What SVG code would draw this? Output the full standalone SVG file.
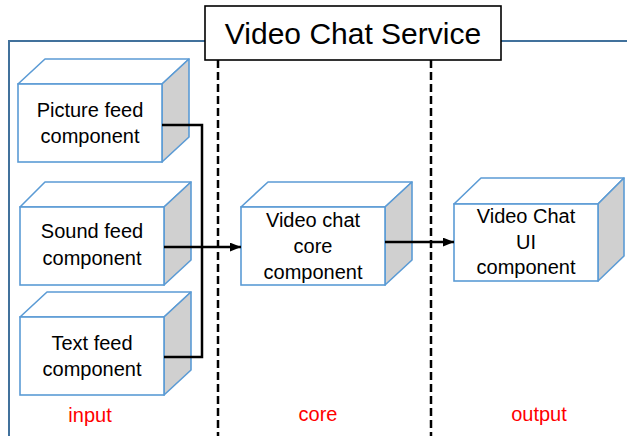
<svg xmlns="http://www.w3.org/2000/svg" width="627" height="436" viewBox="0 0 627 436">
<defs>
<style>
.front{fill:#fff;stroke:#5B9BD5;stroke-width:1.6}
.top{fill:#fff;stroke:#5B9BD5;stroke-width:1.6;stroke-linejoin:round}
.side{fill:#D0D0D0;stroke:#5B9BD5;stroke-width:1.6;stroke-linejoin:round}
.t{font-family:"Liberation Sans",Arial,sans-serif;font-size:20px;fill:#000;text-anchor:middle}
.lbl{font-family:"Liberation Sans",Arial,sans-serif;font-size:20px;fill:#FF0000;text-anchor:middle}
.conn{fill:none;stroke:#000;stroke-width:2.5}
.dash{fill:none;stroke:#000;stroke-width:2.5;stroke-dasharray:8,4}
</style>
<marker id="arr" viewBox="0 0 10 8" refX="10" refY="4" markerWidth="11" markerHeight="9" markerUnits="userSpaceOnUse" orient="auto">
<path d="M0,0 L10,4 L0,8 z" fill="#000"/>
</marker>
</defs>
<rect width="627" height="436" fill="#fff"/>
<g id="frame">
<path d="M9,436 L9,41 L627,41" fill="none" stroke="#41719C" stroke-width="2"/>
</g>
<g id="dividers">
<line class="dash" x1="218" y1="60" x2="218" y2="436"/>
<line class="dash" x1="431" y1="60" x2="431" y2="436"/>
</g>
<g id="title">
<rect x="205" y="6" width="296" height="54" fill="#fff" stroke="#000" stroke-width="1.6"/>
<text x="353" y="44" font-family="'Liberation Sans',Arial,sans-serif" font-size="30" text-anchor="middle" fill="#000">Video Chat Service</text>
</g>
<g id="picture">
<path class="top" d="M18,84 L45,59 L189,59 L162,84 Z"/>
<path class="side" d="M162,84 L189,59 L189,137 L162,162 Z"/>
<rect class="front" x="18" y="84" width="144" height="78"/>
<text class="t" x="90" y="117">Picture feed</text>
<text class="t" x="90" y="143">component</text>
</g>
<g id="sound">
<path class="top" d="M20,207 L45,182 L191,182 L164,207 Z"/>
<path class="side" d="M164,207 L191,182 L191,260 L164,285 Z"/>
<rect class="front" x="20" y="207" width="144" height="78"/>
<text class="t" x="92" y="238">Sound feed</text>
<text class="t" x="92" y="265">component</text>
</g>
<g id="textfeed">
<path class="top" d="M20,317 L47,292 L191,292 L164,317 Z"/>
<path class="side" d="M164,317 L191,292 L191,370 L164,395 Z"/>
<rect class="front" x="20" y="317" width="144" height="78"/>
<text class="t" x="92" y="350">Text feed</text>
<text class="t" x="92" y="376">component</text>
</g>
<g id="core">
<path class="top" d="M241,207 L268,182 L412,182 L385,207 Z"/>
<path class="side" d="M385,207 L412,182 L412,260 L385,285 Z"/>
<rect class="front" x="241" y="207" width="144" height="78"/>
<text class="t" x="313" y="227">Video chat</text>
<text class="t" x="313" y="253">core</text>
<text class="t" x="313" y="279">component</text>
</g>
<g id="ui">
<path class="top" d="M454,204 L481,178 L624,178 L598,204 Z"/>
<path class="side" d="M598,204 L624,178 L624,256 L598,281 Z"/>
<rect class="front" x="454" y="204" width="144" height="77"/>
<text class="t" x="526" y="223">Video Chat</text>
<text class="t" x="526" y="249">UI</text>
<text class="t" x="526" y="274">component</text>
</g>
<g id="connectors">
<path class="conn" d="M162,125 L202,125 L202,357 L164,357"/>
<path class="conn" d="M164,247 L241,247" marker-end="url(#arr)"/>
<path class="conn" d="M385,242 L454,242" marker-end="url(#arr)"/>
</g>
<g id="labels">
<text class="lbl" x="90" y="422">input</text>
<text class="lbl" x="318" y="421">core</text>
<text class="lbl" x="539" y="421">output</text>
</g>
</svg>
